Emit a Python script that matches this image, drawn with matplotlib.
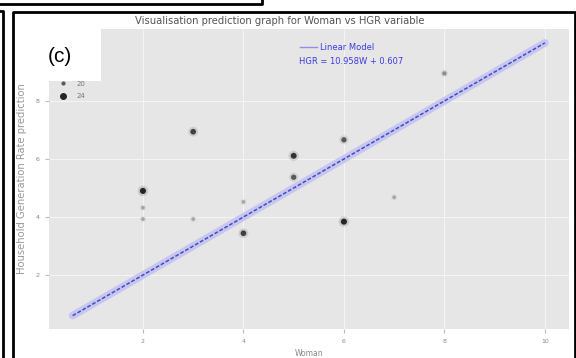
import numpy as np
import matplotlib
matplotlib.use("Agg")
from matplotlib import pyplot as plt
from matplotlib.lines import Line2D
from matplotlib.patches import Rectangle

# data
woman = [2, 2, 2, 3, 3, 4, 4, 5, 5, 6, 6, 7, 8]
hgr = [4.9, 4.32, 3.93, 6.94, 3.93, 4.52, 3.44, 6.11, 5.37, 6.66, 3.84, 4.68, 8.95]
age = [24, 14, 14, 22, 14, 14, 22, 23, 20, 20, 24, 14, 16]
model_x = [0.6, 10.0]
model_y = [0.6, 10.0]
legend_ages = [20, 24]
x_ticks = [2, 4, 6, 8, 10]
y_ticks = [2, 4, 6, 8]

W, H = 576, 358
fig = plt.figure(figsize=(W / 100, H / 100), dpi=100)
ax = fig.add_axes([49 / W, 1 - 329 / H, 520 / W, 300 / H])
ax.set_facecolor("#e6e6e6")
ax.set_xlim(0.13, 10.48)
ax.set_ylim(0.14, 10.48)
for s in ax.spines.values():
    s.set_visible(False)
ax.grid(True, color="#f4f4f4", linewidth=0.8)
ax.set_axisbelow(True)
ax.set_xticks(x_ticks)
ax.set_yticks(y_ticks)
ax.tick_params(colors="#bbbbbb", labelcolor="#888888", labelsize=4.5, length=3, width=0.8, pad=4)


def shade(a):
    g = 0.65 - (a - 14) / 10 * 0.5
    return (g, g, g)


cols = [shade(a) for a in age]
sizes = [(a - 8) * 1.2 for a in age]
ax.scatter(woman, hgr, s=[s * 3 for s in sizes], c=cols, alpha=0.15, linewidths=0, zorder=3)
ax.scatter(woman, hgr, s=sizes, c=cols, linewidths=0, zorder=4)

# linear model line
ax.plot(model_x, model_y, color="#c6c6f2", linewidth=5.5, solid_capstyle="round", zorder=2)
ax.plot(model_x, model_y, color="#4a4ab8", linewidth=1.1, linestyle=(0, (2.5, 1.2)), zorder=5)

ax.set_xlabel("Woman", fontsize=5.5, color="#888888", labelpad=4)
ax.set_ylabel("Household Generation Rate prediction", fontsize=7.2, color="#999999", labelpad=6)

# size legend (top-left)
handles = [Line2D([], [], marker="o", linestyle="", markersize=(a - 16) * 0.5,
                  color=shade(a)) for a in legend_ages]
ax.legend(handles, [str(a) for a in legend_ages], loc="upper left",
          bbox_to_anchor=(53 / W, 1 - 78 / H), bbox_transform=fig.transFigure,
          frameon=False, fontsize=5, labelcolor="#777777", handletextpad=1.0,
          labelspacing=0.9, borderaxespad=0)

# model legend
fig.add_artist(Line2D([300 / W, 317 / W], [1 - 47 / H, 1 - 47 / H], color="#8f8fe8", linewidth=1))
fig.text(320 / W, 1 - 47 / H, "Linear Model", fontsize=6, color="#3b3be0", va="center")
fig.text(299 / W, 1 - 62 / H, "HGR = 10.958W + 0.607", fontsize=6, color="#3b3be0", va="center")

fig.text(280 / W, 1 - 21 / H, "Visualisation prediction graph for Woman vs HGR variable",
         fontsize=7.2, color="#555555", ha="center", va="center")

# white label box with (c)
fig.add_artist(Rectangle((15 / W, 1 - 81 / H), 86 / W, 52 / H, transform=fig.transFigure,
                         facecolor="white", edgecolor="none", zorder=10))
fig.text(60 / W, 1 - 57 / H, "(c)", fontsize=15, color="black", ha="center", va="center",
         zorder=11, family="Liberation Sans")

# page borders
k = dict(color="black", linewidth=2, transform=fig.transFigure, zorder=12)
fig.add_artist(Line2D([0, 262 / W, 262 / W], [1 - 4 / H, 1 - 4 / H, 1], **k))
fig.add_artist(Line2D([0, 3 / W, 3 / W], [1 - 11 / H, 1 - 11 / H, 0], **k))
fig.add_artist(Line2D([13 / W, 13 / W, 575 / W, 575 / W], [0, 1 - 12 / H, 1 - 12 / H, 0], **k))

fig.savefig("out.png", dpi=100)
